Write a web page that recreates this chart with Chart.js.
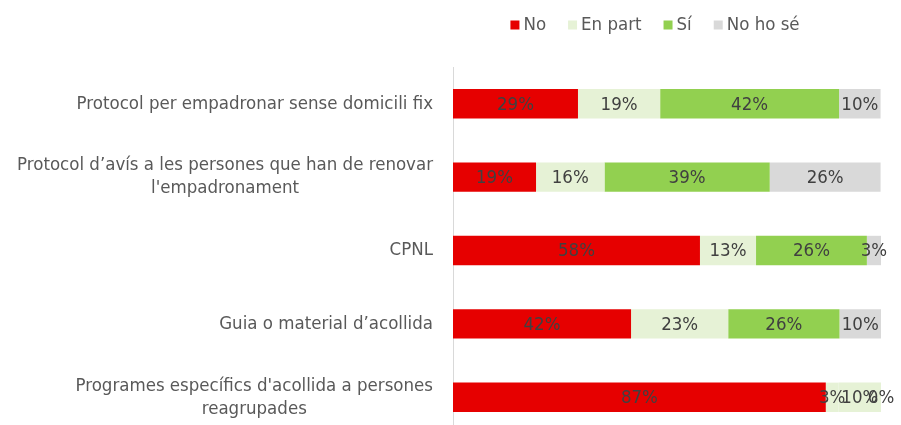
<!DOCTYPE html>
<html>
<head>
<meta charset="utf-8">
<script src="https://cdn.jsdelivr.net/npm/chart.js@4/dist/chart.umd.min.js"></script>
<style>
  body { margin: 0; overflow: hidden; background: #fff; }
  #wrap { width: 901px; height: 442px; }
</style>
</head>
<body>
<div id="wrap"><canvas id="chart" width="901" height="442"></canvas></div>
<script>
// categories (top to bottom), wrapped the way the original shows them
const categories = [
  ['Protocol per empadronar sense domicili fix'],
  ['Protocol d\u2019avís a les persones que han de renovar', 'l\'empadronament'],
  ['CPNL'],
  ['Guia o material d\u2019acollida'],
  ['Programes específics d\'acollida a persones', 'reagrupades']
];
const seriesNames = ['No', 'En part', 'Sí', 'No ho sé'];
const noValues     = [29.2, 19.4, 57.7, 41.6, 87.1];
const enPartValues = [19.2, 16.0, 13.1, 22.7, 3.0];
const siValues     = [41.8, 38.6, 25.9, 26.0, 9.9];
const noHoSeValues = [9.7, 25.9, 3.3, 9.7, 0];

const colors = ['#E60000', '#E6F2D6', '#92D050', '#D9D9D9'];
// last bar of "Sí" is filled pale in the original
const siColors = siValues.map((v, i) => i === siValues.length - 1 ? '#E6F2D6' : colors[2]);

const fontFamily = '"DejaVu Sans Condensed", "DejaVu Sans", sans-serif';
const fontSize = 18.5;

let legendPlugin = {
  id: 'topLegend',
  afterDraw(chart) {
    const c = chart.ctx;
    c.save();
    c.font = fontSize + 'px ' + fontFamily;
    c.textBaseline = 'middle';
    const box = 9, gap = 4, spacing = 22;
    let widths = chart.data.datasets.map(d => box + gap + c.measureText(d.label).width);
    let total = widths.reduce((a, b) => a + b, 0) + spacing * (widths.length - 1);
    let x = 655 - total / 2;
    const y = 25;
    chart.data.datasets.forEach((d, i) => {
      c.fillStyle = colors[i];
      c.fillRect(x, y - box / 2, box, box);
      c.fillStyle = '#595959';
      c.textAlign = 'left';
      c.fillText(d.label, x + box + gap, y);
      x += widths[i] + spacing;
    });
    c.restore();
  }
};

let labelPlugin = {
  id: 'barLabels',
  afterDraw(chart) {
    const c = chart.ctx;
    c.save();
    c.font = fontSize + 'px ' + fontFamily;
    c.textAlign = 'center';
    c.textBaseline = 'middle';
    c.fillStyle = '#404040';
    chart.data.datasets.forEach((d, di) => {
      chart.getDatasetMeta(di).data.forEach((bar, i) => {
        const cx = (bar.x + bar.base) / 2;
        c.fillText(Math.round(d.data[i]) + '%', cx, bar.y + 1);
      });
    });

    // category labels: block right-aligned to the axis, lines centred in block
    const yScale = chart.scales.y;
    const right = chart.chartArea.left - 20;
    c.fillStyle = '#595959';
    categories.forEach((lines, i) => {
      const yc = yScale.getPixelForValue(i);
      const w = Math.max(...lines.map(l => c.measureText(l).width));
      const cx = right - w / 2;
      const lh = 23;
      const y0 = yc - (lines.length - 1) * lh / 2;
      lines.forEach((l, j) => c.fillText(l, cx, y0 + j * lh));
    });
    c.restore();
  }
};

const chart = new Chart(document.getElementById('chart'), {
  type: 'bar',
  data: {
    labels: categories,
    datasets: [
      { label: seriesNames[0], data: noValues, backgroundColor: colors[0] },
      { label: seriesNames[1], data: enPartValues, backgroundColor: colors[1] },
      { label: seriesNames[2], data: siValues, backgroundColor: siColors },
      { label: seriesNames[3], data: noHoSeValues, backgroundColor: colors[3] }
    ]
  },
  options: {
    indexAxis: 'y',
    responsive: false,
    animation: false,
    layout: { padding: { left: 445, right: 20, top: 67, bottom: 8 } },
    datasets: { bar: { categoryPercentage: 1, barPercentage: 0.4, borderWidth: 0 } },
    plugins: { legend: { display: false }, tooltip: { enabled: false } },
    scales: {
      x: { stacked: true, min: 0, max: 100, display: false },
      y: {
        stacked: true,
        grid: { display: false },
        ticks: { display: false },
        border: { display: true, color: '#D9D9D9', width: 1 }
      }
    }
  },
  plugins: [legendPlugin, labelPlugin]
});
</script>
</body>
</html>
